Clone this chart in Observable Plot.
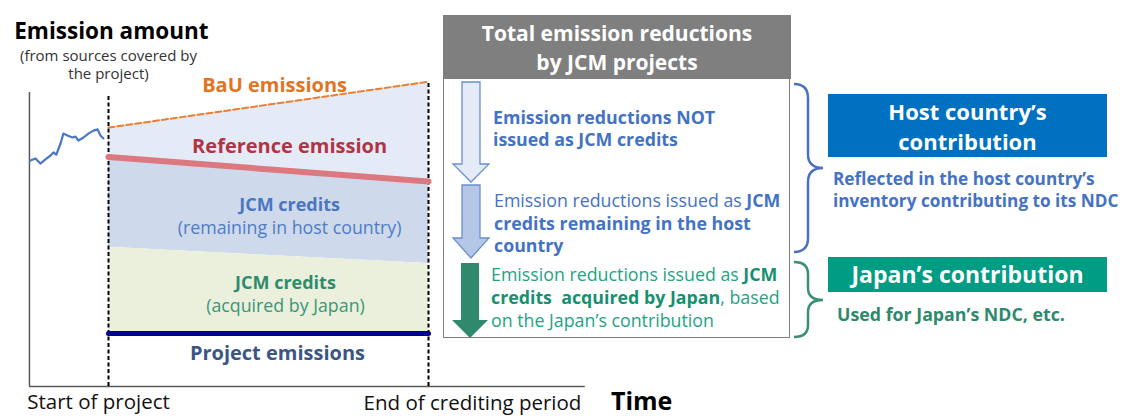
<!DOCTYPE html>
<html>
<head>
<meta charset="utf-8">
<script src="https://cdn.jsdelivr.net/npm/d3@7"></script>
<script src="https://cdn.jsdelivr.net/npm/@observablehq/plot@0.6"></script>
<style>
  html, body { margin: 0; padding: 0; background: #fff; }
  #wrap { position: relative; width: 1131px; height: 418px; overflow: hidden; font-family: "Open Sans", "Noto Sans", sans-serif; }
  #wrap > .abs { position: absolute; white-space: nowrap; }
  #plot { position: absolute; left: 0; top: 0; }
  .b { font-weight: 700; }
</style>
</head>
<body>
<div id="wrap">
  <div id="plot"></div>
</div>
<script>
// ---------- data (conceptual units: years since project start, emission index) ----------
const periodX      = [0, 10];          // start of project, end of crediting period
const bauEmissions = [86.3, 101.6];    // BaU emissions
const referenceEm  = [76.5, 68.3];     // reference emission
const creditSplit  = [46.4, 41.0];     // boundary between credits remaining / acquired by Japan
const projectEm    = [17.7, 17.7];     // project emissions

const histX = [-2.44,-2.28,-2.13,-1.97,-1.81,-1.72,-1.63,-1.50,-1.41,-1.28,-1.13,-1.03,-0.94,-0.78,-0.63,-0.47,-0.34,-0.25,-0.16];
const histY = [75.3,76.0,74.3,75.7,77.0,78.0,77.3,81.0,84.3,83.7,83.0,83.3,82.0,83.0,84.3,85.3,85.7,83.7,82.7];

const axisStartX = -2.47, axisEndX = 14.9, axisTopY = 98;
const dashTops = [96.7, 101.4];

const tickLabels = ["Start of project", "End of crediting period"];
const tickLabelX = [-0.31, 11.375];

// ---------- tables ----------
const period = periodX.map((x, i) => ({x, bau: bauEmissions[i], ref: referenceEm[i], split: creditSplit[i], proj: projectEm[i]}));
const hist = histX.map((x, i) => ({x, y: histY[i]}));
const dashes = periodX.map((x, i) => ({x, top: dashTops[i]}));

const labels = [
  {x: 0.09,  y: 118.3, text: "Emission amount", fill: "#000", size: 22.5, weight: 700},
  {x: 0.0,   y: 110.0, text: "(from sources covered by", fill: "#333", size: 15, weight: 400},
  {x: 0.0,   y: 104.0, text: "the project)", fill: "#333", size: 15, weight: 400},
  {x: 5.19,  y: 100.3, text: "BaU emissions", fill: "#e2741f", size: 20, weight: 700},
  {x: 5.66,  y: 80.0,  text: "Reference emission", fill: "#b13444", size: 20, weight: 700},
  {x: 5.66,  y: 60.3,  text: "JCM credits", fill: "#4a76c0", size: 18, weight: 700},
  {x: 5.66,  y: 52.7,  text: "(remaining in host country)", fill: "#4f7cc6", size: 17.8, weight: 400},
  {x: 5.53,  y: 34.3,  text: "JCM credits", fill: "#2e8c6c", size: 18, weight: 700},
  {x: 5.53,  y: 26.7,  text: "(acquired by Japan)", fill: "#3a9677", size: 17.8, weight: 400},
  {x: 5.28,  y: 11.0,  text: "Project emissions", fill: "#3b5585", size: 20, weight: 700},
  {x: tickLabelX[0], y: -5.2, text: tickLabels[0], fill: "#111", size: 20.5, weight: 400},
  {x: tickLabelX[1], y: -5.6, text: tickLabels[1], fill: "#111", size: 20.5, weight: 400},
  {x: 16.66, y: -5.0,  text: "Time", fill: "#000", size: 25, weight: 700}
];

const chart = Plot.plot({
  width: 700, height: 418,
  marginLeft: 0, marginRight: 0, marginTop: 0, marginBottom: 0,
  x: {domain: [-3.375, 18.5], axis: null},
  y: {domain: [-32/3, 386/3], axis: null},
  style: {fontFamily: '"Open Sans", "Noto Sans", sans-serif', background: "transparent", overflow: "visible"},
  marks: [
    Plot.areaY(period, {x: "x", y1: "ref", y2: "bau", fill: "#e5ebf6"}),
    Plot.areaY(period, {x: "x", y1: "split", y2: "ref", fill: "#cedaec"}),
    Plot.areaY(period, {x: "x", y1: "proj", y2: "split", fill: "#ebf0dd"}),
    Plot.ruleX([axisStartX], {y1: 0, y2: axisTopY, stroke: "#595959", strokeWidth: 1.5}),
    Plot.ruleY([0], {x1: axisStartX, x2: axisEndX, stroke: "#595959", strokeWidth: 1.5}),
    Plot.ruleX(dashes, {x: "x", y1: 0, y2: "top", stroke: "#000", strokeWidth: 2, strokeDasharray: "4,2.5"}),
    Plot.line(hist, {x: "x", y: "y", stroke: "#4a78c4", strokeWidth: 2.2}),
    Plot.line(period, {x: "x", y: "bau", stroke: "#ed7d31", strokeWidth: 2, strokeDasharray: "6,3"}),
    Plot.line(period, {x: "x", y: "ref", stroke: "#dc7880", strokeWidth: 6}),
    Plot.line(period, {x: "x", y: "proj", stroke: "#000090", strokeWidth: 5}),
    ...labels.map(d => Plot.text([d], {x: "x", y: "y", text: "text", fill: "fill", fontSize: d.size, fontWeight: d.weight, textAnchor: "middle", lineAnchor: "middle"}))
  ]
});
document.getElementById("plot").appendChild(chart);

// ---------- right-hand explanatory panel ----------
const wrap = document.getElementById("wrap");
function add(html, style) {
  const d = document.createElement("div");
  d.className = "abs";
  d.innerHTML = html;
  Object.assign(d.style, style);
  wrap.appendChild(d);
  return d;
}
// one element per text line so that line boxes never overlap
function addLines(lines, top, lh, style) {
  lines.forEach((ln, i) => add(ln, Object.assign({}, style, {top: (top + i * lh) + "px", lineHeight: lh + "px", height: lh + "px"})));
}

// header and box
add("", {left: "443px", top: "78px", width: "345px", height: "258px", border: "1.5px solid #7f7f7f", background: "#fff"});
add("", {left: "443px", top: "15px", width: "348px", height: "64px", background: "#7f7f7f"});
addLines(["Total emission reductions", "by JCM projects"], 19, 28.5, {left: "443px", width: "348px", color: "#fff", fontWeight: 700, fontSize: "21px", textAlign: "center"});

// arrows and braces
const ns = "http://www.w3.org/2000/svg";
const svg = document.createElementNS(ns, "svg");
svg.setAttribute("width", 1131); svg.setAttribute("height", 418);
svg.style.position = "absolute"; svg.style.left = "0"; svg.style.top = "0";
svg.innerHTML = `
  <path d="M462,82 H480 V164 H489 L471,182 L453,164 H462 Z" fill="#e4ebf6" stroke="#6a8fcf" stroke-width="1.3"/>
  <path d="M462,185 H480 V238 H489 L471,258 L453,238 H462 Z" fill="#b4c7e7" stroke="#6a8fcf" stroke-width="1.3"/>
  <path d="M461,263 H479 V320 H488 L470,338 L452,320 H461 Z" fill="#2f8a6d"/>
  <path d="M794,84 Q808,84 808,98 V154 Q808,168 823,168 Q808,168 808,182 V238 Q808,252 794,252" fill="none" stroke="#4a72c0" stroke-width="2.5"/>
  <path d="M794,262 Q808,262 808,274 V288 Q808,300 823,300 Q808,300 808,312 V325 Q808,337 794,337" fill="none" stroke="#3a8f70" stroke-width="2.5"/>
`;
wrap.appendChild(svg);

addLines(["Emission reductions NOT", "issued as JCM credits"], 106, 22, {left: "493px", color: "#4472c4", fontWeight: 700, fontSize: "17.8px"});
addLines(['Emission reductions issued as <span class="b">JCM</span>', '<span class="b">credits remaining in the host</span>', '<span class="b">country</span>'], 189, 22.5, {left: "494px", color: "#4472c4", fontSize: "17.8px"});
addLines(['Emission reductions issued as <span class="b" style="color:#17906f">JCM</span>', '<span class="b" style="color:#17906f">credits&nbsp; acquired by Japan</span>, based', 'on the Japan’s contribution'], 262.5, 23, {left: "491px", color: "#1ea383", fontSize: "17.8px"});

add("", {left: "828px", top: "94px", width: "279px", height: "63px", background: "#0070c0"});
addLines(["Host country’s", "contribution"], 97, 29.5, {left: "828px", width: "279px", color: "#fff", fontWeight: 700, fontSize: "22px", textAlign: "center"});
addLines(["Reflected in the host country’s", "inventory contributing to its NDC"], 167.5, 22.5, {left: "833px", color: "#4472c4", fontWeight: 700, fontSize: "17.2px"});
add("", {left: "828px", top: "257px", width: "279px", height: "35px", background: "#009c83"});
addLines(["Japan’s contribution"], 257, 35, {left: "828px", width: "279px", color: "#fff", fontWeight: 700, fontSize: "23px", textAlign: "center"});
addLines(["Used for Japan’s NDC, etc."], 303.5, 21, {left: "837px", color: "#2e8a6a", fontWeight: 700, fontSize: "17.8px"});
</script>
</body>
</html>
